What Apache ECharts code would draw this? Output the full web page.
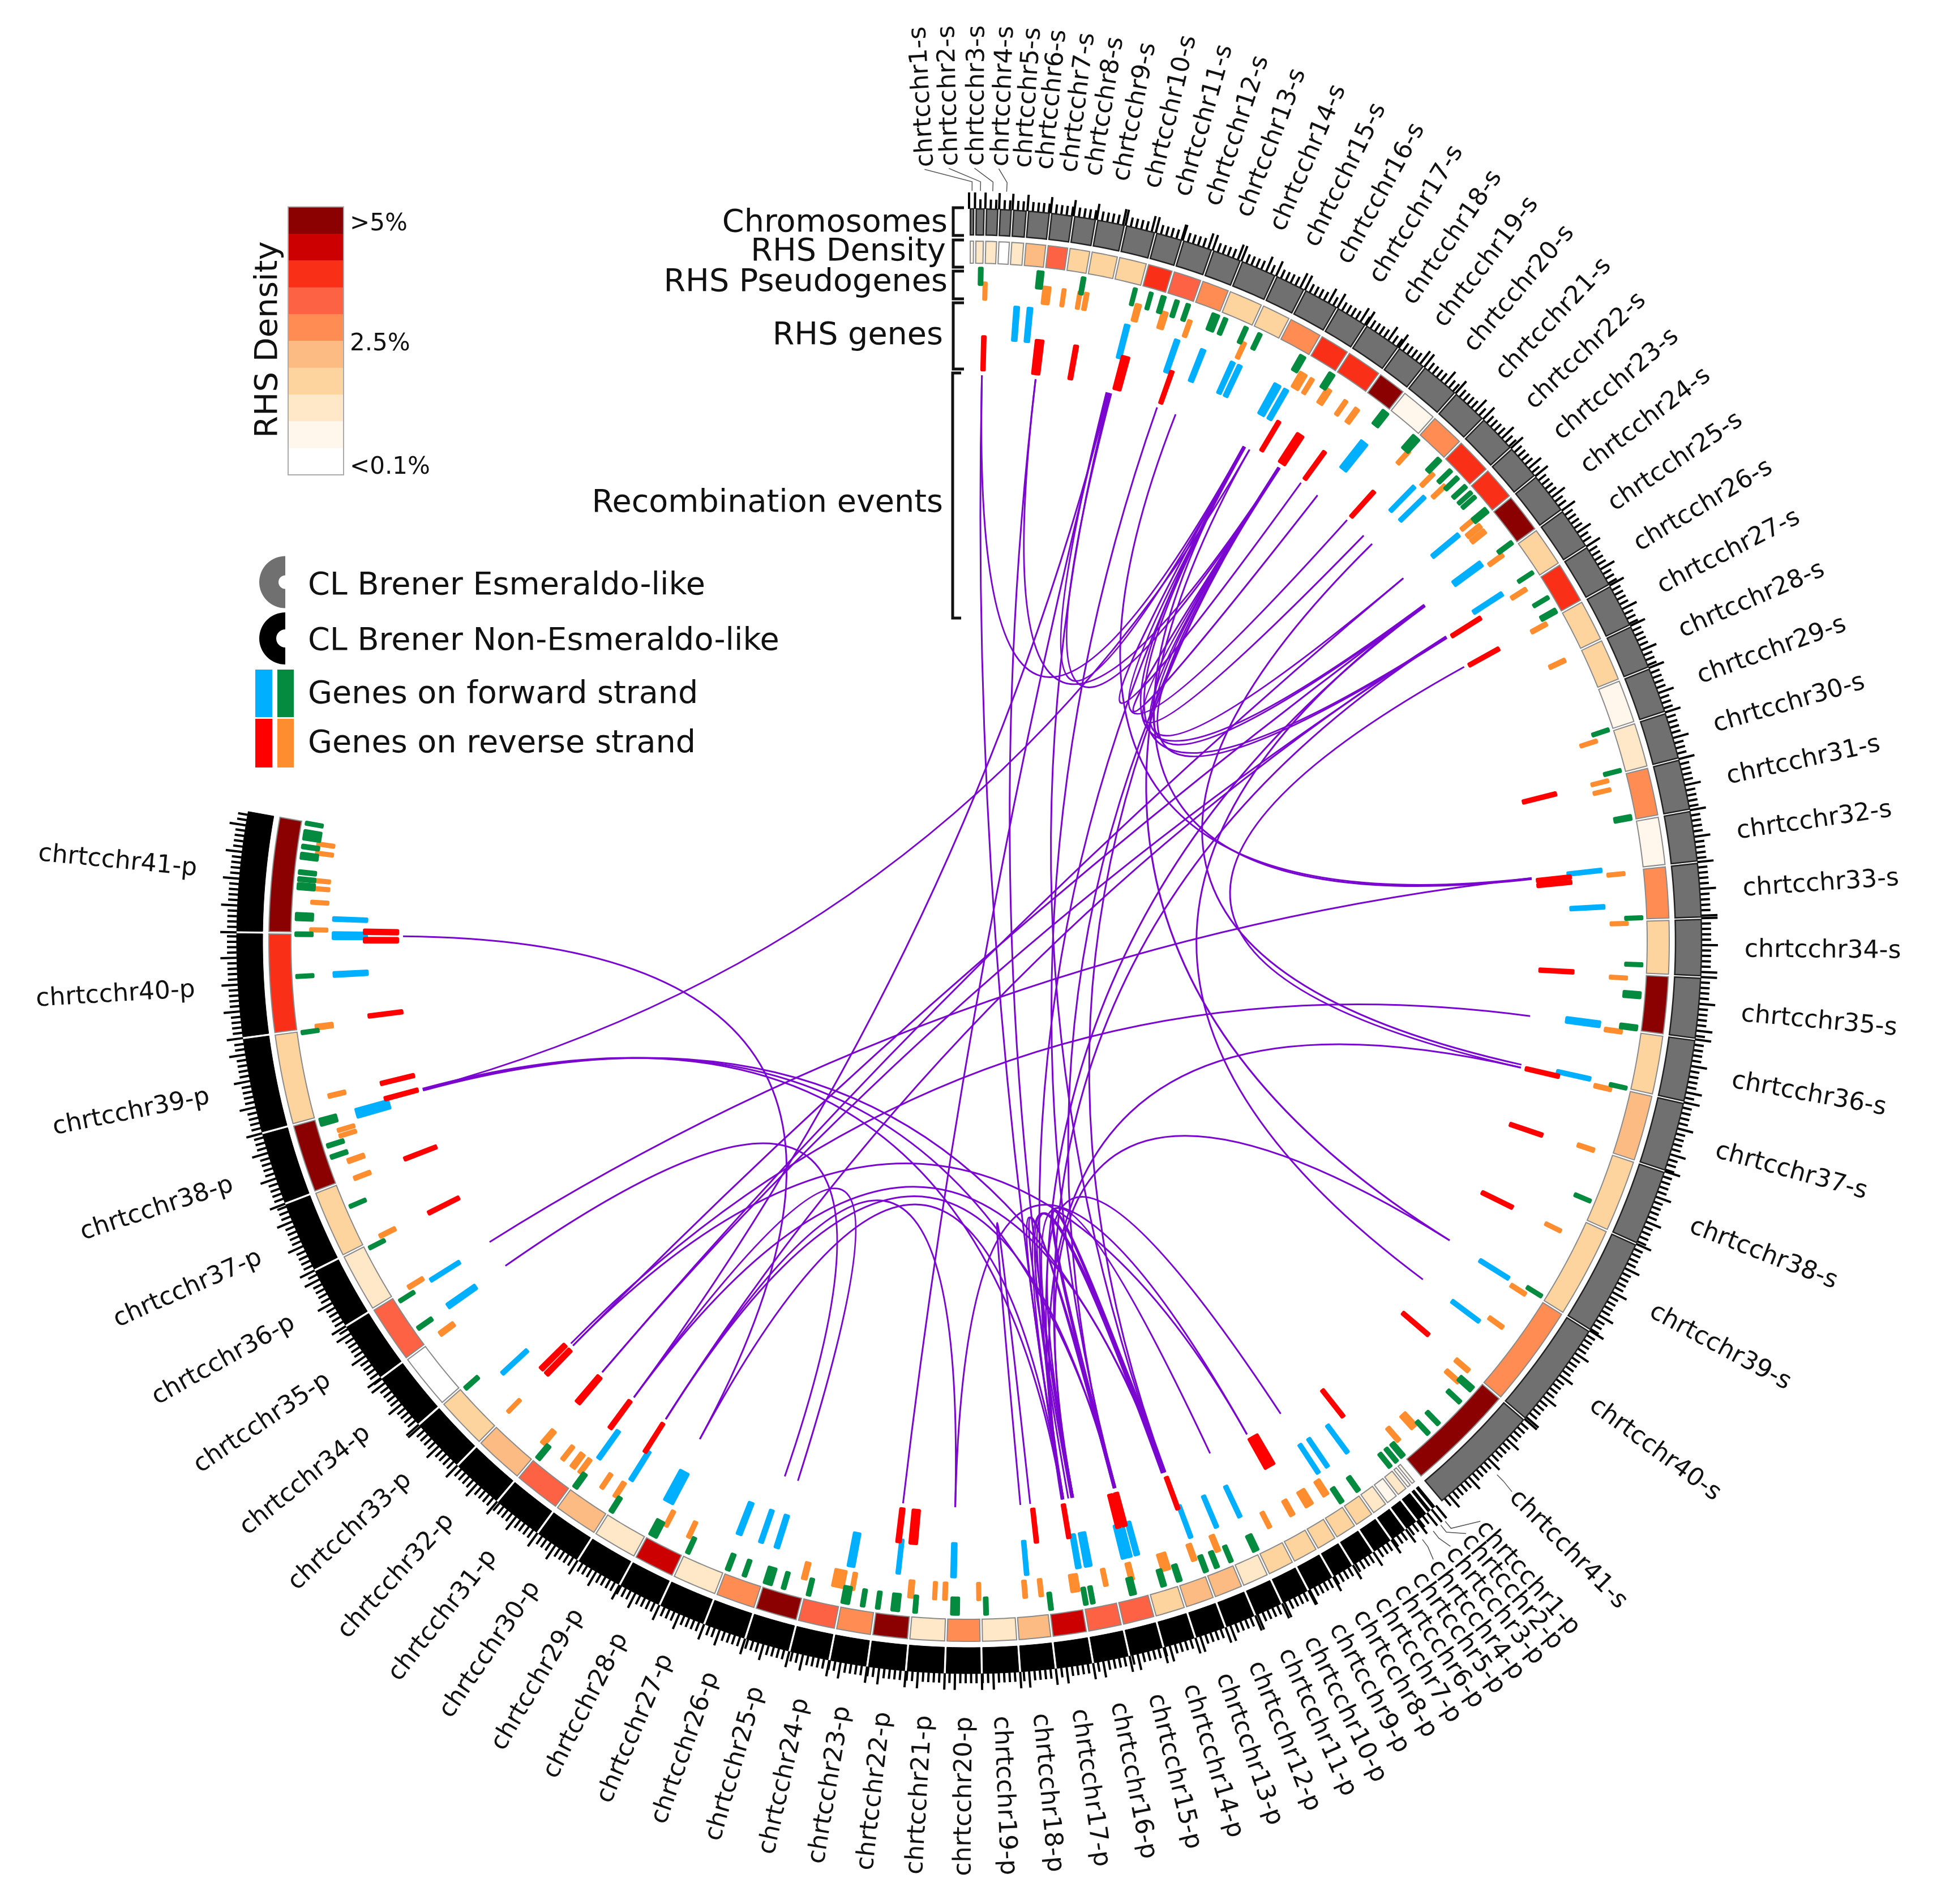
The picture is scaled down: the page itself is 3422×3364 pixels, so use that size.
<!DOCTYPE html>
<html><head><meta charset="utf-8">
<style>html,body{margin:0;padding:0;background:#fff}#c{width:3422px;height:3364px}</style>
<script src="https://cdn.jsdelivr.net/npm/echarts@6/dist/echarts.min.js"></script>
</head><body><div id="c"></div>
<script>
// chromosome edges, in degrees clockwise from the top of the circle
const esmeraldoEdges=[0,.46,1.27,2.35,3.4,4.57,6.39,8.2,10.03,12.33,14.76,16.95,19.42,21.82,24.77,27.28,30.18,32.8,35.9,38.4,41.6,44.55,47.7,50.6,54,57.4,60.95,64.5,68.1,71.8,75.6,79.7,83.8,88.2,92.8,97.7,102.7,108.3,114.4,122.1,130.7,139.9];
const nonEsmeraldoEdges=[140.4,140.85,141.3,142.3,143.4,144.8,146.5,148.4,150.2,152.4,154.7,157,159.5,162,164.6,167.35,170.25,173.2,176,179,181.9,184.95,188,191,194.2,197.8,201.2,205,208.5,212.3,216.1,220.1,224.3,228.7,233.4,238.3,243.3,249,254.8,262.4,270.7,280.3];
// RHS density class per chromosome (0 = <0.1% ... 9 = >5%)
const esmeraldoDensity=[1,2,2,0,2,4,6,3,3,3,7,6,5,3,3,5,7,7,9,1,5,7,7,9,3,7,3,3,1,2,5,1,5,3,9,3,4,3,3,5,9];
const nonEsmeraldoDensity=[1,1,2,1,2,3,3,3,3,3,2,4,4,3,6,6,8,4,2,5,2,9,5,6,9,5,2,8,2,4,6,4,3,0,6,2,3,9,3,7,9];
const densityColors=['#ffffff','#fff7ec','#fee8c8','#fdd49e','#fdbb84','#fe8c53','#fd6244','#fa2f17','#cc0000','#8b0000'];
// displaced label angles for the crowded chromosomes
const esmeraldoLabelAngles={1:-3.3,2:-1.5,3:.4,4:2.2,5:3.9,6:5.5};
const nonEsmeraldoLabelAngles={1:138.6,2:140,3:141.5,4:143.1,5:144.6,6:146.2,7:147.9,8:149.7,9:151.7,10:153.8};
const leaderLines=[[.23,-3.3],[.87,-1.5],[1.81,.4],[2.87,2.2],[135.3,135.4],[140.62,138.6],[141.07,140],[141.8,141.5],[142.85,143.1]];
// [centre angle, span] of each element
const forwardPseudogenes=[[1,.2],[6.1,.4],[9.8,.2],[14.3,.15],[15.7,.15],[16.8,.25],[18,.2],[19,.2],[21.5,.5],[22.4,.2],[24.3,.2],[25.6,.2],[29.7,.4],[32.6,.4],[38.2,.5],[41.6,.6],[44.3,.3],[45.65,.2],[46.5,.2],[47.5,.2],[48.2,.15],[48.7,.15],[50.2,.4],[53.7,.2],[56.8,.15],[59.3,.15],[60.6,.3],[71.7,.15],[75.3,.15],[79.4,.3],[88,.15],[92,.15],[94.6,.4],[97.4,.3],[102.6,.15],[112.7,.15],[121.8,.15],[131.7,.4],[133.2,.2],[135.8,.2],[137,.2],[139.9,.3],[140.6,.2],[141.3,.2],[144.7,.25],[146.4,.25],[154.8,.4],[157.1,.2],[158.4,.25],[159.4,.25],[161.8,.3],[163.2,.3],[165.9,.4],[169.4,.2],[170,.2],[173,.2],[178.55,.2],[181.2,.55],[184.6,.2],[186.3,.55],[187.8,.2],[189.1,.2],[190.6,.55],[193.8,.2],[196,.2],[197.4,.6],[199.5,.2],[201,.25],[204.7,.2],[208,.6],[212.1,.25],[215.8,.3],[219.8,.3],[228.4,.2],[234.9,.2],[237.7,.15],[242.9,.15],[246.8,.15],[251.3,.2],[252.3,.2],[254.4,.5],[262.2,.15],[267,.15],[270.6,.2],[272.1,.5],[274.7,.4],[275.3,.2],[275.9,.2],[277.3,.4],[278.1,.2],[279.1,.7],[280.1,.15]];
const reversePseudogenes=[[1.4,.15],[6.8,.5],[8.3,.15],[9.7,.15],[10.3,.2],[14.9,.35],[17.3,.4],[19.6,.2],[24.7,.2],[30.5,.55],[31.4,.2],[33.1,.4],[34.9,.2],[36.1,.3],[41.9,.2],[44.8,.2],[46.25,.2],[50.1,.2],[50.9,.3],[51.5,.3],[54.1,.2],[57.7,.2],[61.2,.2],[64.75,.2],[72.3,.15],[75.9,.15],[76.7,.15],[84.1,.15],[88.45,.15],[93.2,.15],[97.9,.2],[103,.2],[108.5,.2],[116.1,.15],[122.4,.2],[125.9,.2],[130.7,.25],[132,.25],[137.5,.5],[139.3,.25],[147.2,.4],[148.9,.6],[150.6,.3],[152.85,.2],[157.8,.3],[160,.3],[162.6,.65],[165.7,.3],[168,.2],[170.7,.6],[173.7,.2],[175.1,.2],[179.15,.15],[182.1,.2],[183,.15],[185.1,.3],[190.2,.2],[191.5,.9],[194.5,.3],[205.2,.2],[207.4,.2],[212.5,.25],[213.9,.2],[216.2,.25],[217,.35],[218.1,.2],[220.3,.35],[224.4,.15],[233.4,.3],[238.3,.2],[243.4,.2],[248.9,.2],[250.5,.25],[252.8,.15],[253.3,.15],[256.4,.2],[262.5,.3],[271,.15],[273.4,.15],[274.6,.15],[275.3,.15],[277.7,.15],[278.5,.15]];
const forwardGenes=[[4.3,.3],[5.5,.3],[14.4,.3],[19.1,.3],[21.6,.3],[24.5,.25],[25.2,.25],[29,.5],[29.9,.3],[38.4,.6],[44.4,.2],[45.7,.2],[50.3,.25],[53.6,.4],[56.9,.25],[83.6,.2],[86.9,.2],[97.5,.4],[102.5,.2],[122,.2],[126.7,.2],[143.5,.2],[145.7,.2],[146.7,.2],[154.8,.2],[157.1,.2],[159.6,.2],[164.7,.3],[165.4,.3],[165.9,.3],[169.2,.5],[170.1,.3],[174.8,.2],[181.4,.3],[186.4,.2],[190.7,.5],[197.6,.3],[199.1,.25],[201.2,.35],[208.2,.8],[212.1,.25],[215.6,.25],[227.2,.2],[235,.35],[237.8,.2],[254.3,.7],[267,.3],[270.5,.5],[272,.2]];
const reverseGenes=[[1.4,.2],[6.7,.6],[10.2,.25],[15,.6],[19.6,.2],[30.8,.2],[33.2,.6],[36,.2],[42,.2],[57.7,.2],[61.1,.2],[75.9,.2],[83.9,.2],[84.4,.2],[92.9,.2],[102.9,.2],[108.7,.2],[116.1,.2],[130.6,.2],[141.8,.2],[150.2,.9],[159.8,.2],[165.1,.3],[165.7,.3],[170.5,.2],[173.6,.2],[185.3,.6],[186.7,.3],[212.4,.2],[216.4,.25],[220.3,.4],[224.3,.3],[225,.3],[243.3,.2],[248.9,.2],[254.9,.2],[256.4,.2],[262.9,.2],[270.1,.3],[270.9,.3]];
// recombination events: pair of angles
const recombinationEvents=[[1.3,29],[6.75,33.2],[14.05,29.1],[14.55,33.3],[1.3,170.5],[6.75,169.4],[14.3,216.3],[14.15,186.7],[14.4,159.8],[19.4,165],[21.4,83.6],[29.1,83.7],[29.7,254.8],[29.7,121.9],[29,170.4],[33.2,165.1],[33.1,159.7],[35.9,29],[38,33.2],[41.9,29.2],[44.2,33.2],[45.4,102.6],[61,102.9],[33.2,50.1],[33.2,53.6],[29.1,53.5],[29.2,57.5],[33.3,57.6],[53.6,126.7],[53.7,170.6],[57.5,169.5],[224.4,53.6],[220.4,50.1],[220.4,57.5],[212.4,57.4],[237.9,83.6],[224.7,97.6],[102.9,170.5],[121.9,169.4],[270.5,208.4],[197.6,216.3],[199,235],[181.4,150.6],[181.4,212.4],[173.8,174.8],[146.6,169.4],[154.8,169.5],[212.4,165.1],[208.4,170.4],[216.3,159.9],[254.8,165],[254.9,170.5],[254.7,159.8],[224.4,150.6],[159.7,170.5],[159.9,169.4],[165,170.4],[165.2,169.6],[159.8,165],[160,165.2],[160.1,169.9]];
const tickStep=.42, ticksPerMajor=5;
const legendItems=['CL Brener Esmeraldo-like','CL Brener Non-Esmeraldo-like','Genes on forward strand','Genes on reverse strand'];
const trackTitles=['Chromosomes','RHS Density','RHS Pseudogenes','RHS genes','Recombination events'];
const densityTicks=['>5%','2.5%','<0.1%'];

const FONT='"DejaVu Sans"';
const BLUE='#00b0ff',GREEN='#058b3f',RED='#ff0000',ORANGE='#fd8d2e',PURPLE='#7a07cf';

function arc(api,r0,r1,a,b){
  const n=Math.max(2,Math.ceil((b-a)/.5)+1),pts=[];
  for(let i=0;i<n;i++)pts.push(api.coord([r1,a+(b-a)*i/(n-1)]));
  for(let i=n-1;i>=0;i--)pts.push(api.coord([r0,a+(b-a)*i/(n-1)]));
  return pts;
}
function chromRows(edges,levels){return levels.map((v,i)=>[edges[i],edges[i+1],v]);}
function tickRows(edges){
  const rows=[];
  for(let c=0;c+1<edges.length;c++){
    for(let i=0,t=edges[c];t<edges[c+1]-.05;i++,t=edges[c]+i*tickStep)rows.push([t,i%ticksPerMajor===0?1:0]);
  }
  return rows;
}
function base(name,data,renderItem,z){return {type:'custom',name,coordinateSystem:'polar',data,renderItem,clip:false,silent:true,z,animation:false};}
function trackSeries(name,edges,levels,r0,r1,styleOf,z){
  return base(name,chromRows(edges,levels),(p,api)=>{
    const a=api.value(0)+.1,b=api.value(1)-.1;
    return {type:'polygon',shape:{points:arc(api,r0,r1,a,b)},style:styleOf(api.value(2))};
  },z);
}
function geneSeries(name,rows,r0,r1,color,z){
  return base(name,rows,(p,api)=>{
    const c=api.value(0),w=api.value(1)/2;
    return {type:'polygon',shape:{points:arc(api,r0+3,r1-3,c-w,c+w)},style:{fill:color,stroke:color,lineWidth:6,lineJoin:'round'}};
  },z);
}
function labelSeries(name,suffix,edges,displaced){
  const rows=[];
  for(let i=0;i+1<edges.length;i++){
    const n=i+1,th=displaced[n]!==undefined?displaced[n]:(edges[i]+edges[i+1])/2;
    rows.push([th,n]);
  }
  return base(name,rows,(p,api)=>{
    const th=api.value(0),pt=api.coord([1370,th]),right=th>180;
    return {type:'text',x:pt[0],y:pt[1],rotation:(right?270-th:90-th)*Math.PI/180,
      style:{text:'chrtcchr'+api.value(1)+suffix,x:0,y:4,fontSize:44,fontFamily:FONT,fill:'#111',align:right?'right':'left',verticalAlign:'middle'}};
  },8);
}
const tickRender=(p,api)=>{
  const t=api.value(0),a=api.coord([1294,t]),b=api.coord([api.value(1)?1323:1311,t]);
  return {type:'line',shape:{x1:a[0],y1:a[1],x2:b[0],y2:b[1]},style:{stroke:'#000',lineWidth:4}};
};

const series=[
  base('ticks-s',tickRows(esmeraldoEdges),tickRender,1),
  base('ticks-p',tickRows(nonEsmeraldoEdges),tickRender,1),
  trackSeries('CL Brener Esmeraldo-like',esmeraldoEdges,esmeraldoDensity,1248,1294,()=>({fill:'#707070',stroke:'#222',lineWidth:2.5}),2),
  trackSeries('CL Brener Non-Esmeraldo-like',nonEsmeraldoEdges,nonEsmeraldoDensity,1248,1294,()=>({fill:'#000',stroke:'#000',lineWidth:1}),2),
  trackSeries('RHS density s',esmeraldoEdges,esmeraldoDensity,1198,1237,v=>({fill:densityColors[v],stroke:'#8a8a8a',lineWidth:2}),3),
  trackSeries('RHS density p',nonEsmeraldoEdges,nonEsmeraldoDensity,1198,1237,v=>({fill:densityColors[v],stroke:'#8a8a8a',lineWidth:2}),3),
  base('Recombination events',recombinationEvents,(p,api)=>{
    const a=api.coord([1000,api.value(0)]),b=api.coord([1000,api.value(1)]),c=api.coord([0,0]);
    return {type:'bezierCurve',shape:{x1:a[0],y1:a[1],x2:b[0],y2:b[1],cpx1:c[0],cpy1:c[1]},style:{stroke:PURPLE,lineWidth:3,fill:'none'}};
  },4),
  geneSeries('Reverse pseudogenes',reversePseudogenes,1132,1166,ORANGE,5),
  geneSeries('Forward pseudogenes',forwardPseudogenes,1158,1192,GREEN,6),
  geneSeries('Forward genes',forwardGenes,1062,1126,BLUE,5),
  geneSeries('Reverse genes',reverseGenes,1007,1071,RED,6),
  labelSeries('labels-s','-s',esmeraldoEdges,esmeraldoLabelAngles),
  labelSeries('labels-p','-p',nonEsmeraldoEdges,nonEsmeraldoLabelAngles),
  base('leaders',leaderLines,(p,api)=>{
    const a=api.value(0),b=api.value(1);
    return {type:'polyline',shape:{points:[api.coord([1326,a]),api.coord([1342,a]),api.coord([1366,b])]},style:{stroke:'#555',lineWidth:1.5,fill:'none'}};
  },8)
];

// annotations
const g=[];
const txt=(t,x,y,size,align,rot)=>g.push({type:'text',x,y,rotation:rot||0,style:{text:t,fontSize:size,fontFamily:FONT,fill:'#111',align,verticalAlign:'middle'},z:10});
[[0,1674,395],[1,1671,446],[2,1674,500],[3,1666,594],[4,1666,890]].forEach(r=>txt(trackTitles[r[0]],r[1],r[2],55.6,'right'));
[[367,416,1684,1703],[424,472,1684,1703],[479,528,1684,1703],[535,652,1684,1703],[659,1092,1683,1698]].forEach(b=>{
  g.push({type:'polyline',shape:{points:[[b[3],b[0]],[b[2],b[0]],[b[2],b[1]],[b[3],b[1]]]},style:{stroke:'#111',lineWidth:5,fill:'none'},z:10});
});
// colour bar
for(let i=0;i<10;i++){
  g.push({type:'rect',shape:{x:509,y:365.6+i*47.35,width:98,height:47.8},style:{fill:densityColors[9-i]},z:10});
}
g.push({type:'rect',shape:{x:509,y:365.6,width:98,height:473.5},style:{fill:'none',stroke:'#aaa',lineWidth:2},z:11});
txt(densityTicks[0],618,396,42,'left');txt(densityTicks[1],618,608,42,'left');txt(densityTicks[2],618,826,42,'left');
txt('RHS Density',474,600,56,'center',Math.PI/2);
// legend
g.push({type:'sector',shape:{cx:504,cy:1028.5,r:46,r0:12,startAngle:Math.PI/2,endAngle:Math.PI*1.5,clockwise:true},style:{fill:'#707070'},z:10});
g.push({type:'sector',shape:{cx:504,cy:1128,r:46,r0:16,startAngle:Math.PI/2,endAngle:Math.PI*1.5,clockwise:true},style:{fill:'#000'},z:10});
[[451,1183,30,84,BLUE],[490,1183,29,84,GREEN],[451,1270,30,86,RED],[490,1270,29,86,ORANGE]].forEach(r=>{
  g.push({type:'rect',shape:{x:r[0],y:r[1],width:r[2],height:r[3]},style:{fill:r[4]},z:10});
});
[1036,1134,1227.5,1315].forEach((y,i)=>txt(legendItems[i],544,y,55.6,'left'));

const chart=echarts.init(document.getElementById('c'),null,{renderer:'canvas',width:3422,height:3364});
chart.setOption({
  animation:false,backgroundColor:'#ffffff',
  polar:{center:[1712,1663],radius:1700},
  angleAxis:{type:'value',min:0,max:360,startAngle:90,clockwise:true,show:false},
  radiusAxis:{type:'value',min:0,max:1700,show:false},
  series,graphic:{elements:g}
});
</script></body></html>
